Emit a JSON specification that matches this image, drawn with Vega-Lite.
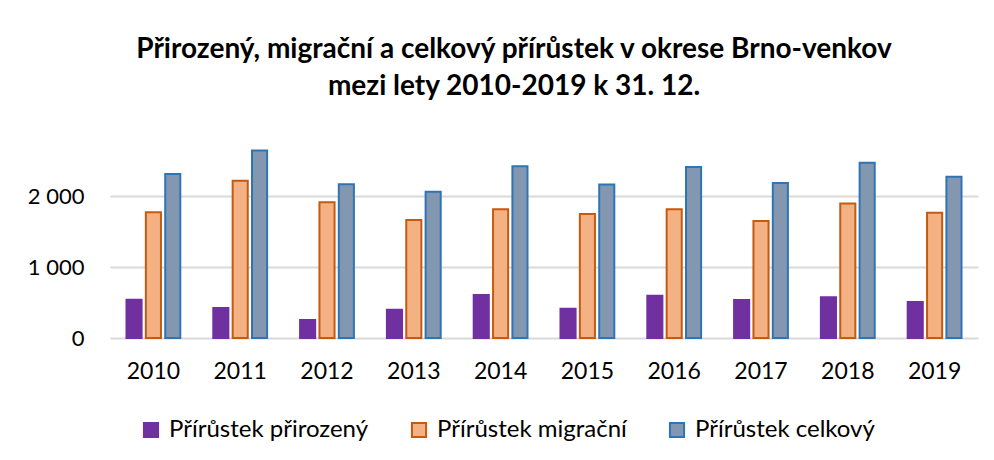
{
  "$schema": "https://vega.github.io/schema/vega-lite/v6.json",
  "autosize": "none",
  "width": 868,
  "height": 213,
  "padding": {"left": 110, "top": 125, "right": 16, "bottom": 122},
  "background": "white",
  "title": {
    "text": ["Přirozený, migrační a celkový přírůstek v okrese Brno-venkov", "mezi lety 2010-2019 k 31. 12."],
    "font": "Lato",
    "fontSize": 28,
    "fontWeight": "bold",
    "color": "#000000",
    "anchor": "middle",
    "dx": -30,
    "offset": 24,
    "lineHeight": 37
  },
  "data": {
    "values": [
      {"year": "2010", "series": "Přírůstek přirozený", "value": 540},
      {"year": "2010", "series": "Přírůstek migrační", "value": 1770},
      {"year": "2010", "series": "Přírůstek celkový", "value": 2310},
      {"year": "2011", "series": "Přírůstek přirozený", "value": 423},
      {"year": "2011", "series": "Přírůstek migrační", "value": 2216},
      {"year": "2011", "series": "Přírůstek celkový", "value": 2640},
      {"year": "2012", "series": "Přírůstek přirozený", "value": 254},
      {"year": "2012", "series": "Přírůstek migrační", "value": 1911},
      {"year": "2012", "series": "Přírůstek celkový", "value": 2164},
      {"year": "2013", "series": "Přírůstek přirozený", "value": 399},
      {"year": "2013", "series": "Přírůstek migrační", "value": 1662},
      {"year": "2013", "series": "Přírůstek celkový", "value": 2061},
      {"year": "2014", "series": "Přírůstek přirozený", "value": 606},
      {"year": "2014", "series": "Přírůstek migrační", "value": 1812},
      {"year": "2014", "series": "Přírůstek celkový", "value": 2420},
      {"year": "2015", "series": "Přírůstek přirozený", "value": 413},
      {"year": "2015", "series": "Přírůstek migrační", "value": 1746},
      {"year": "2015", "series": "Přírůstek celkový", "value": 2161},
      {"year": "2016", "series": "Přírůstek přirozený", "value": 596},
      {"year": "2016", "series": "Přírůstek migrační", "value": 1812},
      {"year": "2016", "series": "Přírůstek celkový", "value": 2408},
      {"year": "2017", "series": "Přírůstek přirozený", "value": 535},
      {"year": "2017", "series": "Přírůstek migrační", "value": 1648},
      {"year": "2017", "series": "Přírůstek celkový", "value": 2183},
      {"year": "2018", "series": "Přírůstek přirozený", "value": 573},
      {"year": "2018", "series": "Přírůstek migrační", "value": 1895},
      {"year": "2018", "series": "Přírůstek celkový", "value": 2467},
      {"year": "2019", "series": "Přírůstek přirozený", "value": 507},
      {"year": "2019", "series": "Přírůstek migrační", "value": 1765},
      {"year": "2019", "series": "Přírůstek celkový", "value": 2272}
    ]
  },
  "mark": {"type": "bar", "strokeWidth": 2},
  "encoding": {
    "x": {
      "field": "year",
      "type": "nominal",
      "scale": {"paddingInner": 0.38, "paddingOuter": 0.19},
      "axis": {
        "title": null,
        "labelAngle": 0,
        "labelFont": "Lato",
        "labelFontSize": 23,
        "labelColor": "#000000",
        "labelPadding": 22,
        "ticks": false,
        "domain": false
      }
    },
    "xOffset": {
      "field": "series",
      "type": "nominal",
      "sort": ["Přírůstek přirozený", "Přírůstek migrační", "Přírůstek celkový"],
      "scale": {"paddingInner": 0.22, "paddingOuter": 0}
    },
    "y": {
      "field": "value",
      "type": "quantitative",
      "scale": {"domain": [0, 3000], "nice": false},
      "axis": {
        "title": null,
        "values": [0, 1000, 2000],
        "labelExpr": "replace(format(datum.value, ','), ',', ' ')",
        "labelFont": "Lato",
        "labelFontSize": 22,
        "labelColor": "#000000",
        "labelPadding": 26,
        "ticks": false,
        "domain": false,
        "grid": true,
        "gridColor": "#d9d9d9",
        "gridWidth": 2
      }
    },
    "color": {
      "field": "series",
      "type": "nominal",
      "scale": {
        "domain": ["Přírůstek přirozený", "Přírůstek migrační", "Přírůstek celkový"],
        "range": ["#7030A0", "#F4B183", "#8497B0"]
      },
      "legend": {
        "title": null,
        "orient": "none",
        "direction": "horizontal",
        "legendX": 29,
        "legendY": 293,
        "symbolType": "square",
        "symbolSize": 200,
        "symbolStrokeWidth": 2,
        "labelFont": "Lato",
        "labelFontSize": 24,
        "labelColor": "#000000",
        "labelOffset": 6,
        "columnPadding": 38,
        "labelLimit": 400
      }
    },
    "stroke": {
      "field": "series",
      "type": "nominal",
      "scale": {
        "domain": ["Přírůstek přirozený", "Přírůstek migrační", "Přírůstek celkový"],
        "range": ["#7030A0", "#C55A11", "#2E75B6"]
      },
      "legend": null
    }
  },
  "config": {
    "view": {"stroke": null}
  }
}
